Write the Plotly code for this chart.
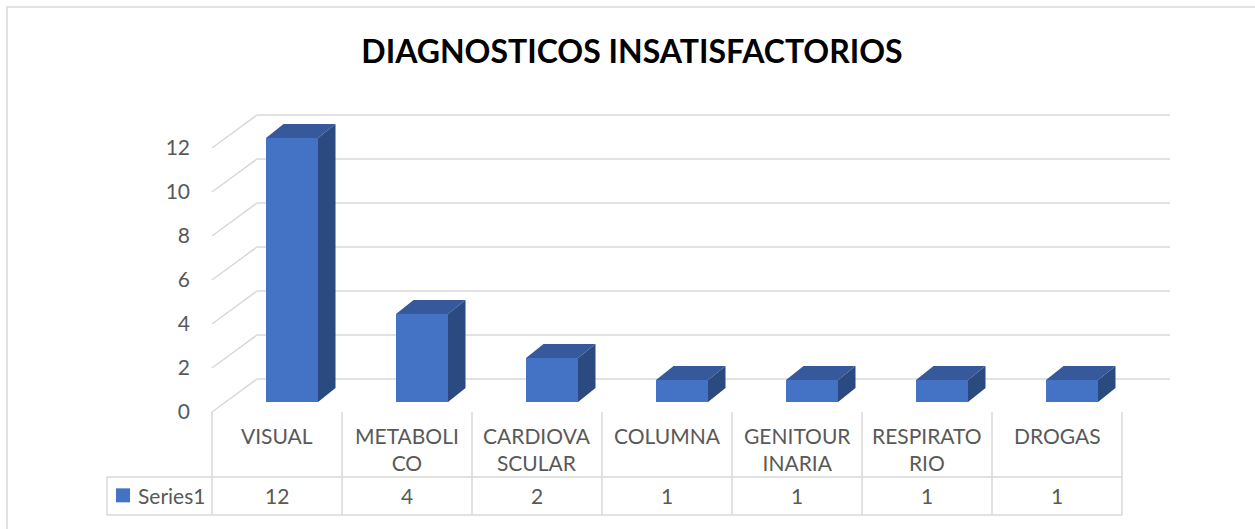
import plotly.graph_objects as go

# ---- data ----
categories = ["VISUAL", "METABOLICO", "CARDIOVASCULAR", "COLUMNA",
              "GENITOURINARIA", "RESPIRATORIO", "DROGAS"]
category_labels = ["VISUAL", "METABOLI<br>CO", "CARDIOVA<br>SCULAR", "COLUMNA",
                   "GENITOUR<br>INARIA", "RESPIRATO<br>RIO", "DROGAS"]
values = [12, 4, 2, 1, 1, 1, 1]
y_ticks = [0, 2, 4, 6, 8, 10, 12]
series_name = "Series1"
title_text = "DIAGNOSTICOS INSATISFACTORIOS"

# ---- style / geometry (in axis units) ----
W, H = 1255, 529
PX_X = 130.0   # px per category
PX_Y = 22.0    # px per value unit
X0_PX = 277.0  # pixel of category 0 centre
Y0_PX = 402.0  # pixel of value 0 (bar base, front)

FRONT = "#4472C4"
TOP = "#35599A"
SIDE = "#2B4A80"
GRID = "#D9D9D9"
TXT = "#595959"
FONT = "Lato"

face_l, face_w = -11 / PX_X, 52 / PX_X
dx, dy = 17.5 / PX_X, 14 / PX_Y
back_dx, back_dy = 45 / PX_X, 23 / PX_Y
front_dy = -10 / PX_Y
grid_end = (1170 - X0_PX) / PX_X

n = len(categories)
idx = list(range(n))

fig = go.Figure()

# front faces
fig.add_trace(go.Bar(
    x=idx, y=values, base=0, offset=face_l, width=face_w,
    marker=dict(color=FRONT, line=dict(width=0)), showlegend=False,
    hoverinfo="skip", name=series_name))

# side and top faces
sx, sy, tx, ty = [], [], [], []
for i, v in zip(idx, values):
    r = i + face_l + face_w
    l = i + face_l
    sx += [r, r + dx, r + dx, r, r, None]
    sy += [0, dy, v + dy, v, 0, None]
    tx += [l, r, r + dx, l + dx, l, None]
    ty += [v, v, v + dy, v + dy, v, None]
fig.add_trace(go.Scatter(x=sx, y=sy, fill="toself", fillcolor=SIDE, mode="lines",
                         line=dict(width=0, color=SIDE), showlegend=False, hoverinfo="skip"))
fig.add_trace(go.Scatter(x=tx, y=ty, fill="toself", fillcolor=TOP, mode="lines",
                         line=dict(width=0, color=TOP), showlegend=False, hoverinfo="skip"))

# gridlines (behind bars)
shapes = []
for t in y_ticks:
    shapes.append(dict(type="line", xref="x", yref="y", layer="below",
                       x0=-0.5, y0=t + front_dy, x1=-0.5 + back_dx, y1=t + back_dy,
                       line=dict(color=GRID, width=1.5)))
    shapes.append(dict(type="line", xref="x", yref="y", layer="below",
                       x0=-0.5 + back_dx, y0=t + back_dy, x1=grid_end, y1=t + back_dy,
                       line=dict(color=GRID, width=1.5)))

# data table lines
row1_top = front_dy
row1_bot = -(477 - Y0_PX) / PX_Y
row2_bot = -(515 - Y0_PX) / PX_Y
leg_left = (107 - X0_PX) / PX_X
for k in range(n + 1):
    shapes.append(dict(type="line", xref="x", yref="y", x0=k - 0.5, x1=k - 0.5,
                       y0=row1_top, y1=row2_bot, line=dict(color=GRID, width=1.5)))
for yy in (row1_bot, row2_bot):
    shapes.append(dict(type="line", xref="x", yref="y", x0=leg_left, x1=n - 0.5,
                       y0=yy, y1=yy, line=dict(color=GRID, width=1.5)))
shapes.append(dict(type="line", xref="x", yref="y", x0=leg_left, x1=leg_left,
                   y0=row1_bot, y1=row2_bot, line=dict(color=GRID, width=1.5)))
# chart border
shapes.append(dict(type="rect", xref="paper", yref="paper", x0=7 / W, x1=1.05,
                   y0=-0.05, y1=1 - 7 / H, line=dict(color=GRID, width=1.5)))

annotations = []
row1_text_top = -(421 - Y0_PX) / PX_Y
row2_mid = (row1_bot + row2_bot) / 2 + 0.03
for i, lab, v in zip(idx, category_labels, values):
    annotations.append(dict(x=i, y=row1_text_top, xref="x", yref="y", text=lab,
                            showarrow=False, font=dict(family=FONT, size=21, color=TXT),
                            yanchor="top"))
    annotations.append(dict(x=i, y=row2_mid, xref="x", yref="y", text=str(v),
                            showarrow=False, font=dict(family=FONT, size=21, color=TXT)))
annotations.append(dict(x=(136 - X0_PX) / PX_X, y=row2_mid, xref="x", yref="y",
                        text=series_name, xanchor="left", showarrow=False,
                        font=dict(family=FONT, size=21, color=TXT)))
# legend key
fig.add_trace(go.Scatter(x=[(123 - X0_PX) / PX_X], y=[row2_mid], mode="markers",
                         marker=dict(symbol="square", size=14, color=FRONT),
                         showlegend=False, hoverinfo="skip"))

# tick label axis (front edge of the floor)
y_lo = (Y0_PX - H) / PX_Y
y_hi = Y0_PX / PX_Y
fig.add_trace(go.Scatter(x=[None], y=[None], yaxis="y2", showlegend=False))

fig.update_layout(
    width=W, height=H, margin=dict(l=0, r=0, t=0, b=0),
    paper_bgcolor="white", plot_bgcolor="white",
    showlegend=False,
    title=dict(text=title_text, x=632 / W, xanchor="center", y=1 - 52 / H, yanchor="middle",
               font=dict(family=FONT, size=32, color="#000000", weight="bold")),
    xaxis=dict(range=[-X0_PX / PX_X, (W - X0_PX) / PX_X], visible=False, fixedrange=True),
    yaxis=dict(range=[y_lo, y_hi], visible=False, fixedrange=True),
    yaxis2=dict(range=[y_lo - front_dy, y_hi - front_dy], overlaying="y", anchor="free",
                position=190 / W, side="left", tickvals=y_ticks, showgrid=False,
                zeroline=False, showline=False, ticks="",
                tickfont=dict(family=FONT, size=21, color=TXT)),
    shapes=shapes, annotations=annotations,
)

fig.write_html("out.html", config={"displayModeBar": False},
               post_script="document.body.style.margin='0px';")
